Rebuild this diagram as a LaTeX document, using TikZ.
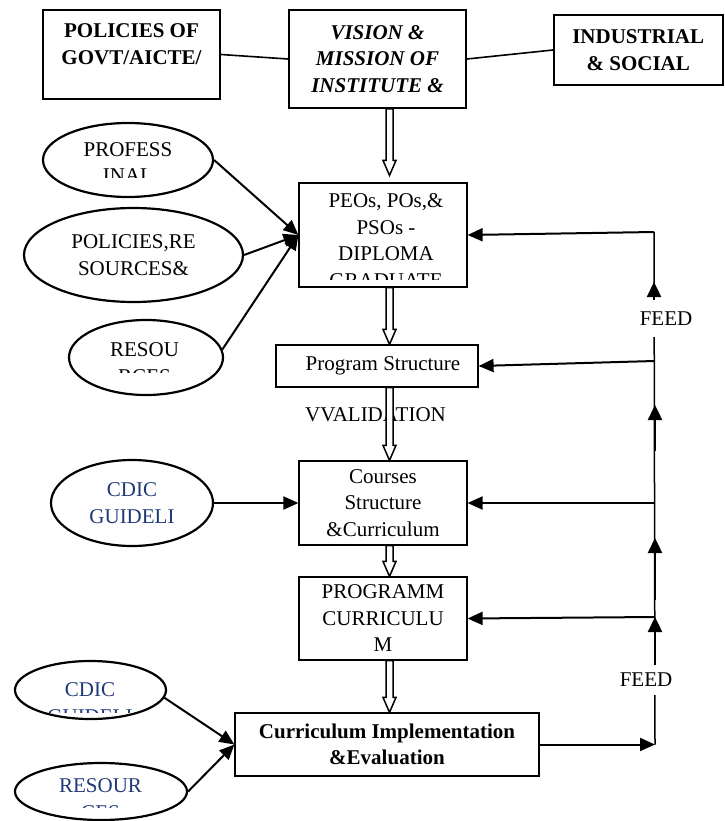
\documentclass[tikz,border=0pt]{standalone}
\usepackage{fontspec}
\setmainfont{Liberation Serif}
\usetikzlibrary{arrows.meta,calc,shapes.geometric}
\definecolor{cdicblue}{RGB}{31,56,120}
\newcommand{\diagfont}{\fontsize{21}{26.5}\selectfont}
\newcommand{\hollowdown}[2]{%
  \draw[hollow] ($(#1)+(-3.5,0)$) -- ($(#2)+(-3.5,-15)$) -- ($(#2)+(-6.5,-15)$) -- (#2)
    -- ($(#2)+(6.5,-15)$) -- ($(#2)+(3.5,-15)$) -- ($(#1)+(3.5,0)$) -- cycle;}
\tikzset{
  topbox/.style={draw, line width=2pt, inner sep=0pt, align=center, font=\diagfont\bfseries},
  stagebox/.style={draw, line width=1.2pt, inner sep=0pt, align=center},
  oval/.style={draw, ellipse, line width=2.2pt, inner sep=0pt, align=center},
  feedlbl/.style={fill=white, inner sep=0pt, minimum width=56, minimum height=30},
  arr/.style={line width=2pt, -{Triangle[length=15pt,width=13pt]}},
  feedarr/.style={line width=2.4pt, -{Triangle[length=15pt,width=14pt]}},
  feedline/.style={line width=1.5pt},
  topline/.style={line width=1.6pt},
  hollow/.style={draw, fill=white, line width=1.5pt, line join=miter},
}

\begin{document}
\begin{tikzpicture}[x=1pt,y=1pt,yscale=-1,xscale=1,font=\diagfont]
 \useasboundingbox (0,0) rectangle (724,821);
 \coordinate (spine) at (389.5,0);

 % top row
 \node[topbox, minimum width=177, minimum height=89, text depth=21] (pol) at (131.5,54.5) {POLICIES OF\\GOVT/AICTE/};
 \node[topbox, minimum width=177, minimum height=98, font=\diagfont\bfseries\itshape] (vis) at (377.5,59) {VISION \&\\MISSION OF\\INSTITUTE \&};
 \node[topbox, minimum width=168.5, minimum height=70] (ind) at (638.25,50) {INDUSTRIAL\\\& SOCIAL};
 \draw[topline] (pol.east) -- (vis.west);
 \draw[topline] (vis.east) -- (ind.west);

 % stages
 \node[stagebox, minimum width=168, minimum height=104] (peo) at (383,235) {};
 \node[stagebox, minimum width=202, minimum height=42] (prog) at (377,366) {\hspace*{12pt}Program Structure};
 \node[stagebox, minimum width=168, minimum height=84] (crs) at (383,503) {Courses\\Structure\\\&Curriculum};
 \node[stagebox, minimum width=168, minimum height=83] (pcur) at (383,618.5) {PROGRAMM\\CURRICULU\\M};
 \node[stagebox, minimum width=304, minimum height=63, font=\diagfont\bfseries] (impl) at (387,744.5) {Curriculum Implementation\\\&Evaluation};
 \begin{scope}
  \clip (300,184) rectangle (466,279);
  \node[align=center] (peotxt) at (386,240.7) {PEOs, POs,\&\\PSOs -\\DIPLOMA\\GRADUATE};
 \end{scope}

 % inputs on the left
 \node[oval, minimum width=170, minimum height=74] (prof) at (128,160) {};
 \node[oval, minimum width=219, minimum height=94] (polres) at (133.5,255) {POLICIES,RE\\SOURCES\&};
 \node[oval, minimum width=154, minimum height=75] (res) at (146,357.5) {};
 \node[oval, minimum width=162, minimum height=86, text=cdicblue] (cdic) at (132,503) {CDIC\\GUIDELI};
 \node[oval, minimum width=151, minimum height=58] (cdicb) at (90.5,690) {};
 \node[oval, minimum width=172, minimum height=57] (resb) at (101,791.5) {};
 \begin{scope}
  \clip (45,125) rectangle (212,178);
  \node[align=center] (proftxt) at (128,162.3) {PROFESS\\INAL};
 \end{scope}
 \begin{scope}
  \clip (72,322) rectangle (220,372);
  \node[align=center] (restxt) at (144.5,363.3) {RESOU\\RCES};
 \end{scope}
 \begin{scope}
  \clip (18,663) rectangle (164,712);
  \node[align=center, text=cdicblue] (cdicbtxt) at (90,703.3) {CDIC\\GUIDELI};
 \end{scope}
 \begin{scope}
  \clip (18,765) rectangle (185,807);
  \node[align=center, text=cdicblue] (resbtxt) at (100.5,799.3) {RESOUR\\CES};
 \end{scope}
 \draw[arr] (prof.east) -- (peo.west);
 \draw[arr] (polres.east) -- (peo.west);
 \draw[arr] (res.6) -- (peo.west);
 \draw[arr] (cdic.east) -- (crs.west);
 \draw[arr] (cdicb.-6) -- (impl.west);
 \draw[arr] (resb.east) -- (impl.west);

 % main flow
 \coordinate (peotop) at ($(peo.north -| spine)+(0,-7)$);
 \node[fill=white, inner sep=1pt] (valid) at (375.5,415) {VVALIDATION};
 \hollowdown{vis.south -| spine}{peotop}
 \hollowdown{peo.south -| spine}{prog.north -| spine}
 \hollowdown{prog.south -| spine}{crs.north -| spine}
 \hollowdown{crs.south -| spine}{pcur.north -| spine}
 \hollowdown{pcur.south -| spine}{impl.north -| spine}

 % feedback
 \coordinate (fb0) at (655,744.5);
 \coordinate (fb1) at (654,232);
 \coordinate (fb2) at (654.5,361);
 \coordinate (fb3) at (655,503);
 \coordinate (fb4) at (655,617);
 \coordinate (up2a) at (655,600);
 \coordinate (up2b) at (655,538);
 \coordinate (up3a) at (655,451);
 \coordinate (up3b) at (655,405);
 \coordinate (up4b) at (654,282);
 \draw[arr] (impl.east) -- (fb0);
 \draw[feedline] (fb0) -- (fb1);
 \node[feedlbl] (feedlo) at (646,680) {FEED};
 \node[feedlbl, minimum height=37] (feedhi) at (666,318.5) {FEED};
 \draw[feedarr] (feedlo.north -| fb0) -- (fb4);
 \draw[feedarr] (up2a) -- (up2b);
 \draw[feedarr] (up3a) -- (up3b);
 \draw[feedarr] (feedhi.north -| fb1) -- (up4b);
 \draw[arr] (fb1) -- (peo.east);
 \draw[arr] (fb2) -- (prog.east);
 \draw[arr] (fb3) -- (crs.east);
 \draw[arr] (fb4) -- (pcur.east);
\end{tikzpicture}
\end{document}
